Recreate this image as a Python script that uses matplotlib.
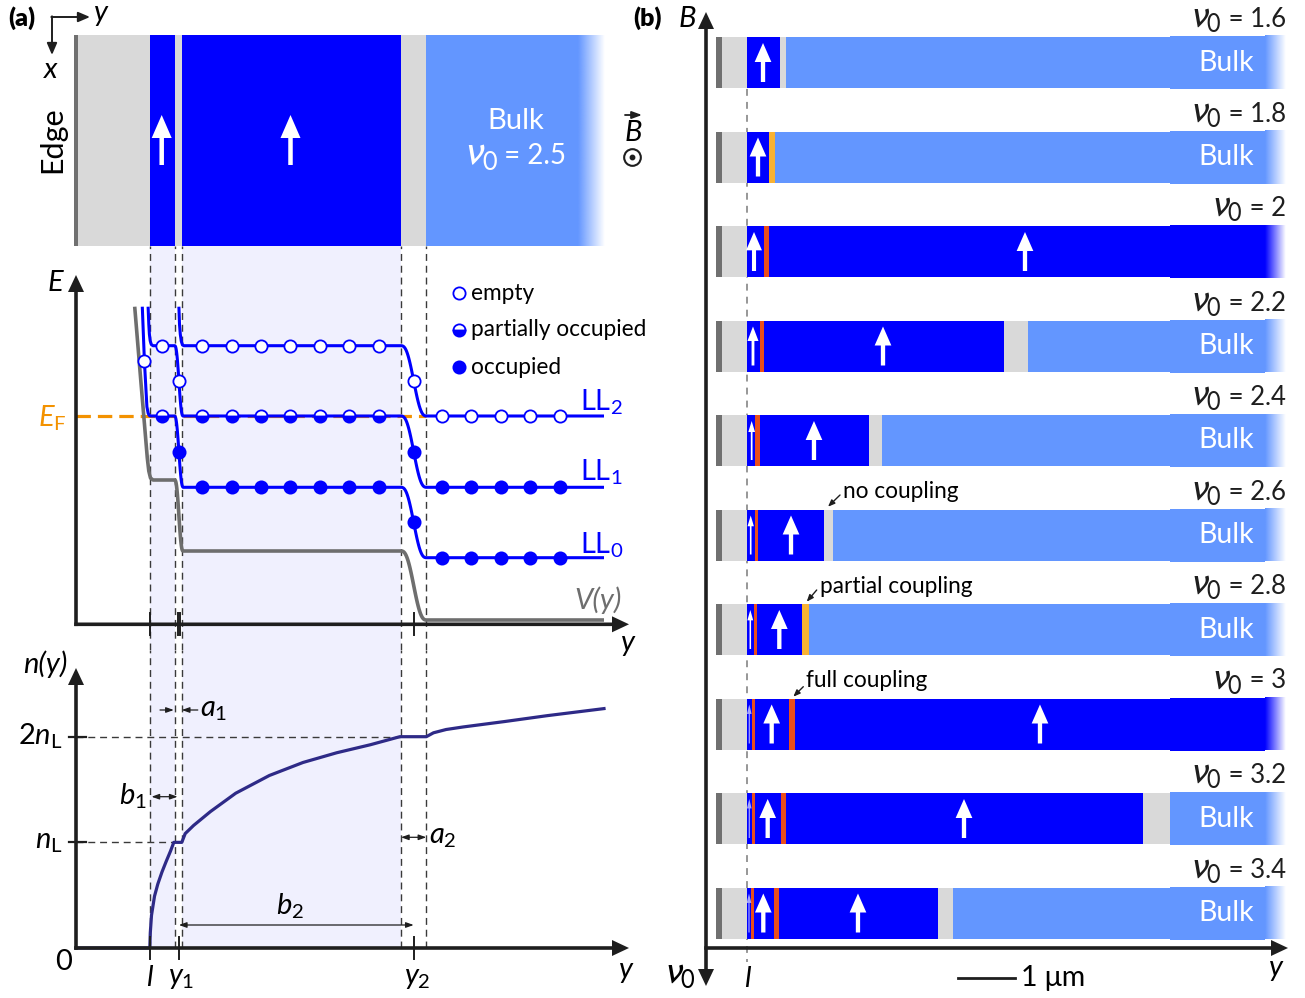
import numpy as np
import matplotlib
matplotlib.use('Agg')
import matplotlib.pyplot as plt
from matplotlib.patches import Rectangle
from matplotlib.colors import to_rgb

plt.rcParams['font.family'] = ['Lato', 'DejaVu Sans']
plt.rcParams['mathtext.fontset'] = 'custom'
plt.rcParams['mathtext.rm'] = 'Lato'
plt.rcParams['mathtext.it'] = 'Lato:italic'
plt.rcParams['mathtext.bf'] = 'Lato:bold'
plt.rcParams['mathtext.sf'] = 'Lato'
plt.rcParams['mathtext.fallback'] = 'stixsans'

# ---------------- colours ----------------
C_BLUE = '#0000FF'
C_LBLUE = '#6396FF'
C_GRAY = '#D9D9D9'
C_EDGE = '#707070'
C_RED = '#E94E1B'
C_ORANGE = '#F9B233'
C_SHADE = '#F0F0FE'
C_AX = '#1E1E1E'
C_EF = '#F39200'
C_V = '#6E6E6E'
C_N = '#2E2A87'
C_DASH = '#3A3A3A'
KIND = {'E': C_EDGE, 'G': C_GRAY, 'B': C_BLUE, 'L': C_LBLUE, 'R': C_RED, 'O': C_ORANGE}

# ---------------- data: panel (a) ----------------
strip_u = [-2.3, 2.0, 73.8, 98.7, 105.8, 324.7, 350.3, 529.0]
strip_kind = 'EGBGBGL'
strip_fade_start = 502.0
top_arrow_u = [85.7, 214.5]
dashed_u = [73.8, 98.7, 105.8, 324.7, 350.3]
shade_spans = [(73.8, 98.7), (105.8, 324.7)]
u_l, u_y1, u_y2 = 73.8, 102.9, 337.7
E_ticks_u = [73.8, 101.6, 104.1, 337.7]
nu0_bulk_a = 2.5

E_F = 208.3
V_wall = [(58.7, 317.6), (65.0, 241.3), (71.3, 166.3), (72.8, 153.3), (74.5, 146.3)]
V_plateaus = [(77.0, 98.5, 144.3), (107.3, 324.7, 73.3), (350.7, 528.0, 4.3)]
LL0_wall = [(66.3, 317.6), (68.4, 263.3), (70.9, 217.6), (72.1, 211.3), (73.0, 209.2)]
LL0_plateaus = [(74.0, 98.3, 208.3), (107.5, 324.7, 137.0), (350.7, 528.0, 66.6)]
LL1_wall = [(72.1, 317.6), (72.8, 300.0), (73.4, 290.0), (74.2, 283.5), (75.3, 279.8)]
LL1_plateaus = [(77.0, 98.5, 278.6), (107.3, 324.7, 208.3), (350.7, 528.0, 137.0)]
LL2_wall = [(102.9, 317.6), (103.5, 300.0), (104.3, 290.0), (105.3, 283.0), (106.5, 279.3)]
LL2_plateaus = [(108.0, 324.7, 278.6), (350.7, 528.0, 208.3)]

mid_u = [126.0, 155.5, 185.0, 214.4, 243.9, 273.3, 302.8]
bulk_u = [365.9, 395.4, 424.8, 454.3, 483.8]
empty_pts = ([(u, 278.6) for u in mid_u] + [(u, 208.3) for u in bulk_u] +
             [(86.0, 278.6), (68.4, 263.3), (102.9, 243.45), (337.7, 243.45)])
half_pts = [(u, 208.3) for u in mid_u] + [(86.0, 208.3)]
full_pts = ([(u, 137.0) for u in mid_u] + [(u, 137.0) for u in bulk_u] +
            [(u, 66.6) for u in bulk_u] + [(102.9, 172.65), (337.7, 172.65), (337.7, 101.8)])

n_u = [0, 73.8, 74.3, 75.5, 78.5, 81.8, 86.0, 90.2, 94.5, 97.8, 105.8, 109.2, 117.6,
       134.4, 159.7, 193.4, 227.0, 260.7, 294.4, 323.8, 350.3, 357.5, 370.1, 387.0,
       429.0, 471.1, 528.0]
n_val = [0, 0, 0.145, 0.309, 0.49, 0.605, 0.72, 0.82, 0.917, 1.0, 1.0, 1.083, 1.160,
         1.291, 1.465, 1.633, 1.756, 1.848, 1.924, 2.0, 2.0, 2.037, 2.068, 2.092,
         2.144, 2.199, 2.266]

# ---------------- data: panel (b) ----------------
nu0_vals = [1.6, 1.8, 2.0, 2.2, 2.4, 2.6, 2.8, 3.0, 3.2, 3.4]
row_edges = [
    [0.0, 0.579, 0.684],
    [0.0, 0.386, 0.491],
    [0.0, 0.298, 0.386],
    [0.0, 0.223, 0.298, 4.509, 4.930],
    [0.0, 0.146, 0.228, 2.140, 2.368],
    [0.0, 0.140, 0.188, 1.351, 1.504],
    [0.0, 0.118, 0.170, 0.960, 1.088],
    [0.0, 0.093, 0.140, 0.742, 0.842],
    [0.0, 0.082, 0.140, 0.596, 0.684, 6.947, 7.421],
    [0.0, 0.070, 0.123, 0.474, 0.561, 3.351, 3.614],
]
row_kinds = ['BGL', 'BOL', 'BRB', 'BRBGL', 'BRBGL', 'BRBGL', 'BRBOL', 'BRBRB',
             'BRBRBGL', 'BRBRBGL']
arrow_x = [[0.281], [0.193], [0.123, 4.877], [0.105, 2.386], [0.082, 1.175],
           [0.065, 0.772], [0.058, 0.567], [0.040, 0.433, 5.140],
           [0.040, 0.363, 3.807], [0.035, 0.286, 1.947]]
arrow_w = [[1.0], [1.0], [0.95, 1.0], [0.66, 1.0], [0.4, 1.0], [0.38, 1.0],
           [0.35, 1.0], [0.28, 1.0, 1.0], [0.28, 1.0, 1.0], [0.28, 1.0, 1.0]]
bulk_rows = [True, True, False, True, True, True, True, False, True, True]
edge_x = [-0.544, -0.439, 0.0]
bar_end, fade_start, tall_start = 9.439, 9.088, 7.421
scale_bar_um = 1.0

# ---------------- figure ----------------
W, H = 1305, 998
PT = 0.72  # points per pixel at 100 dpi
fig = plt.figure(figsize=(W / 100, H / 100), dpi=100)
REN = fig.canvas.get_renderer()
NU0 = r'$\nu_0$'


def add_ax(x0, y0, x1, y1, xlim, ylim):
    ax = fig.add_axes([x0 / W, 1 - y1 / H, (x1 - x0) / W, (y1 - y0) / H])
    ax.set_xlim(*xlim)
    ax.set_ylim(*ylim)
    ax.set_axis_off()
    return ax


def arrow(ax, p0, p1, hw, hl, tw, color, alpha=1.0, z=6):
    ax.annotate('', xy=p1, xytext=p0, annotation_clip=False, zorder=z,
                arrowprops=dict(arrowstyle=f'simple,head_length={hl*PT},head_width={hw*PT},tail_width={tw*PT}',
                                color=color, lw=0, shrinkA=0, shrinkB=0, mutation_scale=1, alpha=alpha))


def thin_arrow(ax, p0, p1, style='-|>', lw=1.0, color=C_AX, hl=5.0, hw=2.0, z=6):
    ax.annotate('', xy=p1, xytext=p0, annotation_clip=False, zorder=z,
                arrowprops=dict(arrowstyle=f'{style},head_length={hl},head_width={hw}',
                                color=color, lw=lw, shrinkA=0, shrinkB=0, mutation_scale=1))


def fade(ax, x0, x1, y0, y1, color, z=2):
    img = np.zeros((1, 64, 4))
    img[..., :3] = to_rgb(color)
    img[0, :, 3] = np.linspace(1, 0, 64)
    ax.imshow(img, extent=[x0, x1, y0, y1], aspect='auto', interpolation='bilinear',
              zorder=z, origin='lower')


def nu_label(ax, x, y, rest, fs, color=C_AX, align='right', nu_scale=1.5, z=5):
    """nu_0 drawn with a tall italic nu, followed by the rest of the label."""
    tn = ax.text(x, y, NU0, fontsize=fs * nu_scale, ha='left', va='baseline',
                 color=color, zorder=z, math_fontfamily='stixsans')
    tr = ax.text(x, y, rest, fontsize=fs, ha='left', va='baseline', color=color, zorder=z)
    wn = tn.get_window_extent(REN).width
    wr = tr.get_window_extent(REN).width
    xd, yd = ax.transData.transform((x, y))
    start = xd - wn - wr if align == 'right' else xd - (wn + wr) / 2
    inv = ax.transData.inverted()
    tn.set_x(inv.transform((start, yd))[0])
    tr.set_x(inv.transform((start + wn, yd))[0])


def step_curve(wall, plateaus):
    pts = list(wall)
    for i, (u0, u1, L) in enumerate(plateaus):
        if i > 0:
            _, pu1, pL = plateaus[i - 1]
            t = np.linspace(0, 1, 40)
            s = t ** 3 * (t * (6 * t - 15) + 10)
            pts += list(zip(pu1 + (u0 - pu1) * t, pL + (L - pL) * s))
        pts += [(u0, L), (u1, L)]
    a = np.array(pts)
    return a[:, 0], a[:, 1]


# ================= panel (a): top strip =================
XL_A = (-76, 584)
axT = add_ax(0, 0, 660, 246, XL_A, (0, 246))
for i, k in enumerate(strip_kind):
    u0, u1 = strip_u[i], strip_u[i + 1]
    if k == 'L':
        axT.add_patch(Rectangle((u0, 0), strip_fade_start - u0, 211, color=KIND[k], lw=0, zorder=1))
        fade(axT, strip_fade_start, u1, 0, 211, KIND[k])
    else:
        axT.add_patch(Rectangle((u0, 0), u1 - u0, 211, color=KIND[k], lw=0, zorder=1))
for u in top_arrow_u:
    arrow(axT, (u, 81), (u, 131), 20, 23, 4.5, 'white')
axT.text(-54, 228, '(a)', fontsize=18, fontweight='heavy', ha='center', va='center')
thin_arrow(axT, (-24.7, 229), (14, 229), lw=1.4, hl=7, hw=3)
thin_arrow(axT, (-24, 229.7), (-24, 191), lw=1.4, hl=7, hw=3)
axT.text(25, 233, 'y', fontsize=21, style='italic', ha='center', va='center')
axT.text(-25, 176, 'x', fontsize=21, style='italic', ha='center', va='center')
axT.text(-24, 106, 'Edge', fontsize=22, rotation=90, ha='center', va='center')
axT.text(440, 125, 'Bulk', fontsize=21, color='white', ha='center', va='center')
nu_label(axT, 440, 82, ' = %g' % nu0_bulk_a, 20, color='white', align='center')
thin_arrow(axT, (549, 131), (566, 131), lw=1.3, hl=6, hw=2.2)
axT.text(557, 113, 'B', fontsize=21, style='italic', ha='center', va='center')
axT.plot([556], [89], 'o', ms=12, mfc='white', mec=C_AX, mew=1.5, zorder=5)
axT.plot([556], [89], 'o', ms=3.2, color=C_AX, zorder=6)

# ================= panel (a): energy =================
E0 = 624.3
axE = add_ax(0, 246, 660, 650, XL_A, (E0 - 650, E0 - 246))
for a, b in shade_spans:
    axE.add_patch(Rectangle((a, E0 - 650), b - a, 404, color=C_SHADE, lw=0, zorder=0))
for u in dashed_u:
    axE.plot([u, u], [E0 - 650, E0 - 246], color=C_DASH, lw=1.0, dashes=(5, 3.5), zorder=1)
axE.plot([0, 350.3], [E_F, E_F], color=C_EF, lw=2.3, dashes=(4.5, 2.2), zorder=2)
vx, vy = step_curve(V_wall, V_plateaus)
axE.plot(vx, vy, color=C_V, lw=2.6, zorder=3, solid_capstyle='butt')
for wall, plat in [(LL0_wall, LL0_plateaus), (LL1_wall, LL1_plateaus), (LL2_wall, LL2_plateaus)]:
    lx, ly = step_curve(wall, plat)
    axE.plot(lx, ly, color=C_BLUE, lw=2.2, zorder=4, solid_capstyle='butt')
MS, MEW = 8.8, 1.3
ex, ey = zip(*empty_pts)
axE.plot(ex, ey, 'o', ms=MS, mfc='white', mec=C_BLUE, mew=MEW, zorder=5)
hx, hy = zip(*half_pts)
axE.plot(hx, hy, 'o', ms=MS, fillstyle='bottom', mfc=C_BLUE, markerfacecoloralt='white',
         mec=C_BLUE, mew=MEW, zorder=5)
fx, fy = zip(*full_pts)
axE.plot(fx, fy, 'o', ms=MS, mfc=C_BLUE, mec=C_BLUE, mew=MEW, zorder=5)
# axes
arrow(axE, (0, -1.75), (0, 349.3), 16, 17, 3.6, C_AX, z=7)
arrow(axE, (-1.75, 0), (553, 0), 16, 17, 3.6, C_AX, z=7)
for u in E_ticks_u:
    axE.plot([u, u], [-11, 11], color=C_AX, lw=1.4, zorder=7)
axE.text(-21, 341.3, 'E', fontsize=21, style='italic', ha='center', va='center')
axE.text(-24, 206, r'$E_\mathrm{F}$', fontsize=21, color=C_EF, ha='center', va='center')
axE.text(552, -18.7, 'y', fontsize=21, style='italic', ha='center', va='center')
axE.text(522, 24.3, 'V(y)', fontsize=21, style='italic', color=C_V, ha='center', va='center')
for lab, Ey in [('2', 222.3), ('1', 152.3), ('0', 79.3)]:
    axE.text(503.5, Ey, r'$\mathrm{LL}_' + lab + '$', fontsize=21, color=C_BLUE, ha='left', va='center')
leg_E = [331.0, 294.3, 257.0]
axE.plot([382.8], [leg_E[0]], 'o', ms=MS, mfc='white', mec=C_BLUE, mew=MEW)
axE.plot([382.8], [leg_E[1]], 'o', ms=MS, fillstyle='bottom', mfc=C_BLUE,
         markerfacecoloralt='white', mec=C_BLUE, mew=MEW)
axE.plot([382.8], [leg_E[2]], 'o', ms=MS, mfc=C_BLUE, mec=C_BLUE, mew=MEW)
for txt, Ey in zip(['empty', 'partially occupied', 'occupied'], leg_E):
    axE.text(395.4, Ey, txt, fontsize=16.3, ha='left', va='center')

# ================= panel (a): density =================
NS = 105.65
axN = add_ax(0, 650, 660, 998, XL_A, (-50 / NS, 298 / NS))
ntop = 298 / NS
for a, b in shade_spans:
    axN.add_patch(Rectangle((a, 0), b - a, ntop, color=C_SHADE, lw=0, zorder=0))
for u in dashed_u:
    axN.plot([u, u], [0, ntop], color=C_DASH, lw=1.0, dashes=(5, 3.5), zorder=1)
axN.plot([0, n_u[9]], [1, 1], color=C_DASH, lw=1.0, dashes=(5, 3.5), zorder=1)
axN.plot([0, n_u[19]], [2, 2], color=C_DASH, lw=1.0, dashes=(5, 3.5), zorder=1)
axN.plot(n_u, n_val, color=C_N, lw=2.3, zorder=4)
arrow(axN, (0, -0.017), (0, 280 / NS), 16, 17, 3.6, C_AX, z=7)
arrow(axN, (-1.75, 0), (553, 0), 16, 17, 3.6, C_AX, z=7)
for nv in [1, 2]:
    axN.plot([-6.6, 10.3], [nv, nv], color=C_AX, lw=1.6, zorder=7)
for u in [u_l, u_y1, u_y2]:
    axN.plot([u, u], [11 / NS, -11 / NS], color=C_AX, lw=1.4, zorder=7)
axN.text(-31, 284 / NS, 'n(y)', fontsize=21, style='italic', ha='center', va='center')
axN.text(-13, 2.0, r'$2n_\mathrm{L}$', fontsize=21, ha='right', va='center')
axN.text(-13, 1.0, r'$n_\mathrm{L}$', fontsize=21, ha='right', va='center')
axN.text(-12, -14 / NS, '0', fontsize=21, ha='center', va='center')
axN.text(u_l, -30 / NS, 'l', fontsize=21, style='italic', ha='center', va='center')
axN.text(105, -30 / NS, r'$y_1$', fontsize=21, ha='center', va='center')
axN.text(341.6, -30 / NS, r'$y_2$', fontsize=21, ha='center', va='center')
axN.text(550, -22 / NS, 'y', fontsize=21, style='italic', ha='center', va='center')
na1 = 238 / NS
thin_arrow(axN, (84, na1), (97.8, na1), lw=0.9, hl=4.5, hw=1.6)
thin_arrow(axN, (121.8, na1), (105.8, na1), lw=0.9, hl=4.5, hw=1.6)
axN.text(124, na1, r'$a_1$', fontsize=21, ha='left', va='center')
nb1 = 151.3 / NS
thin_arrow(axN, (75.5, nb1), (101.6, nb1), style='<|-|>', lw=0.9, hl=4.5, hw=1.6)
axN.text(71, nb1, r'$b_1$', fontsize=21, ha='right', va='center')
na2 = 110.7 / NS
thin_arrow(axN, (325, na2), (350.3, na2), style='<|-|>', lw=0.9, hl=4.5, hw=1.6)
axN.text(353, na2, r'$a_2$', fontsize=21, ha='left', va='center')
nb2 = 23 / NS
thin_arrow(axN, (u_y1, nb2), (u_y2, nb2), style='<|-|>', lw=0.9, hl=4.5, hw=1.6)
axN.text(214, 41.3 / NS, r'$b_2$', fontsize=21, ha='center', va='center')

# ================= panel (b) =================
PX_UM = 57.0
ROW_PX = 94.5
DNU = 0.2


def nu_of(py):
    return 1.6 + (py - 62.5) / ROW_PX * DNU


XL_B = ((640 - 747) / PX_UM, (1305 - 747) / PX_UM)
YL_B = (nu_of(998), nu_of(0))
axB = add_ax(640, 0, 1305, 998, XL_B, YL_B)
half = 25.5 / ROW_PX * DNU
px1 = DNU / ROW_PX  # one pixel in nu0 units
axB.plot([0, 0], [nu_of(37), nu_of(962)], color='#7A7A7A', lw=1.1, dashes=(4.5, 4), zorder=1)
for r, nu in enumerate(nu0_vals):
    top, bot = nu - half, nu + half
    axB.add_patch(Rectangle((edge_x[0], top), edge_x[1] - edge_x[0], 2 * half, color=C_EDGE, lw=0, zorder=2))
    axB.add_patch(Rectangle((edge_x[1], top), edge_x[2] - edge_x[1], 2 * half, color=C_GRAY, lw=0, zorder=2))
    edges = row_edges[r] + [bar_end]
    kinds = row_kinds[r]
    for i, k in enumerate(kinds):
        x0, x1 = edges[i], edges[i + 1]
        if i == len(kinds) - 1:
            x1 = fade_start
        axB.add_patch(Rectangle((x0, top), x1 - x0, 2 * half, color=KIND[k], lw=0, zorder=2))
    last = KIND[kinds[-1]]
    t0 = max(tall_start, edges[-2])
    axB.add_patch(Rectangle((t0, top - px1), fade_start - t0, 2 * half + 2 * px1, color=last, lw=0, zorder=2))
    fade(axB, fade_start, bar_end, bot + px1, top - px1, last, z=2)
    for ax_x, w in zip(arrow_x[r], arrow_w[r]):
        arrow(axB, (ax_x, bot - 6 * px1), (ax_x, top + 6 * px1), 16.7 * w, 19 * (0.3 + 0.7 * w),
              max(4.3 * w, 1.2), 'white', alpha=(0.65 if w < 0.3 else 1.0), z=4)
    if bulk_rows[r]:
        axB.text((1226 - 747) / PX_UM, nu, 'Bulk', fontsize=20.5, color='white', ha='center', va='center', zorder=5)
    nu_label(axB, (1286 - 747) / PX_UM, top - 10 * px1, ' = %g' % nu, 18.5)

# axes of panel (b)
xax = (706 - 747) / PX_UM
nu_mid = nu_of(500)
arrow(axB, (xax, nu_mid), (xax, nu_of(12)), 16, 17, 3.6, C_AX, z=7)
arrow(axB, (xax, nu_mid), (xax, nu_of(986)), 16, 17, 3.6, C_AX, z=7)
arrow(axB, (xax - 1.75 / PX_UM, nu_of(948)), ((1288 - 747) / PX_UM, nu_of(948)), 16, 17, 3.6, C_AX, z=7)
axB.text((647 - 747) / PX_UM, nu_of(18), '(b)', fontsize=18, fontweight='heavy', ha='center', va='center')
axB.text((687 - 747) / PX_UM, nu_of(19), 'B', fontsize=21, style='italic', ha='center', va='center')
axB.text((681 - 747) / PX_UM, nu_of(972), NU0, fontsize=28, ha='center', va='center',
         math_fontfamily='stixsans')
axB.text(0, nu_of(979), 'l', fontsize=21, style='italic', ha='center', va='center')
axB.text((1276 - 747) / PX_UM, nu_of(968), 'y', fontsize=21, style='italic', ha='center', va='center')
sb0 = (958 - 747) / PX_UM
axB.plot([sb0, sb0 + scale_bar_um], [nu_of(978), nu_of(978)], color=C_AX, lw=2.0)
axB.text(sb0 + scale_bar_um + 0.1, nu_of(978), '1 μm', fontsize=20.5, ha='left', va='center')

# coupling annotations
for txt, tx, ty, p0, p1 in [
    ('no coupling', 843, 491.7, (840, 495), (828, 506.7)),
    ('partial coupling', 820, 586.7, (816.7, 590), (806.7, 601.7)),
    ('full coupling', 806, 680, (803.3, 686.7), (793.3, 696.7)),
]:
    axB.text((tx - 747) / PX_UM, nu_of(ty), txt, fontsize=16.3, ha='left', va='center', zorder=6)
    thin_arrow(axB, ((p0[0] - 747) / PX_UM, nu_of(p0[1])), ((p1[0] - 747) / PX_UM, nu_of(p1[1])),
               lw=1.0, hl=4, hw=1.6)

for ax, xl, yl in [(axT, XL_A, (0, 246)), (axE, XL_A, (E0 - 650, E0 - 246)), (axB, XL_B, YL_B)]:
    ax.set_xlim(*xl)
    ax.set_ylim(*yl)

fig.savefig('out.png', dpi=100)
